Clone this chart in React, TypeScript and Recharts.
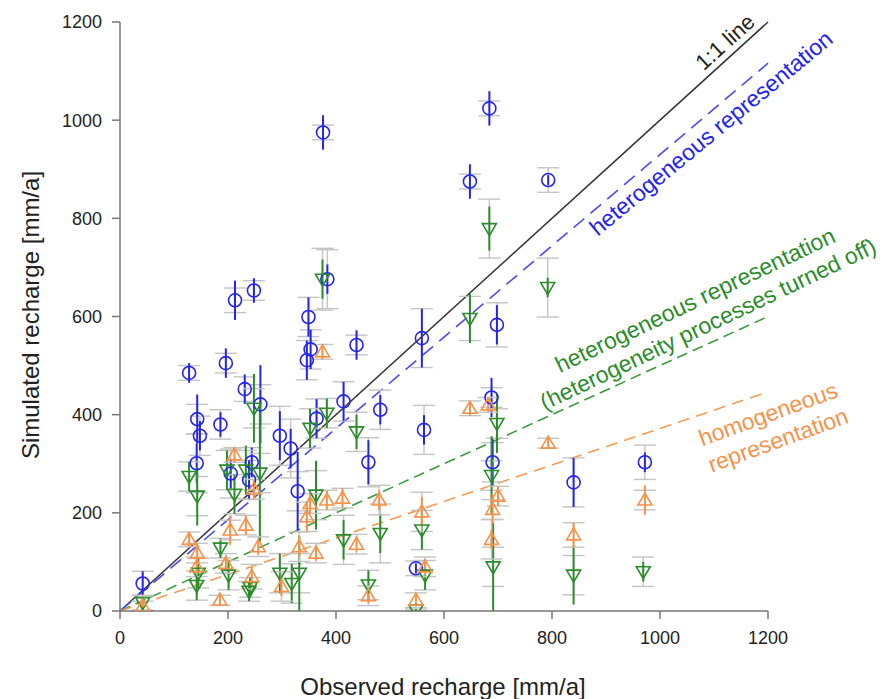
import React from "react";
import {
  ScatterChart,
  Scatter,
  XAxis,
  YAxis,
  ErrorBar,
  ReferenceLine,
} from "recharts";

// heterogeneous representation (blue circles)
const hetObs = [42, 128, 143, 148, 142, 186, 196, 213, 231, 248, 260, 205, 239, 244, 296, 316, 329, 349, 353, 346, 364, 376, 384, 414, 438, 460, 482, 548, 559, 563, 648, 684, 688, 690, 698, 793, 840, 972];
const hetSim = [56, 485, 391, 357, 301, 380, 505, 633, 452, 653, 421, 280, 267, 303, 357, 331, 244, 599, 533, 511, 392, 975, 676, 427, 542, 303, 410, 87, 556, 369, 875, 1024, 435, 303, 583, 878, 262, 303];
const hetErr = [25, 20, 50, 30, 40, 25, 30, 40, 30, 25, 80, 30, 40, 30, 50, 40, 80, 40, 40, 40, 40, 35, 30, 40, 30, 45, 30, 10, 60, 30, 35, 35, 40, 50, 40, 10, 50, 20];
const hetRange = [25, 15, 30, 40, 60, 30, 20, 25, 25, 20, 40, 50, 40, 30, 60, 60, 40, 40, 40, 40, 40, 15, 60, 40, 20, 50, 40, 15, 60, 50, 15, 15, 20, 40, 45, 25, 50, 35];

// heterogeneity processes turned off (green down triangles)
const offObs = [42, 128, 143, 145, 142, 186, 198, 201, 212, 233, 239, 241, 248, 259, 296, 318, 332, 352, 363, 375, 383, 414, 438, 460, 482, 548, 559, 565, 648, 684, 688, 691, 698, 792, 840, 969];
const offSim = [17, 274, 234, 77, 52, 128, 287, 73, 238, 287, 40, 48, 413, 281, 77, 56, 77, 372, 236, 676, 403, 145, 365, 53, 158, 2, 165, 73, 596, 779, 276, 90, 382, 659, 73, 80];
const offErr = [10, 30, 60, 30, 30, 20, 40, 30, 40, 50, 20, 20, 70, 140, 40, 40, 77, 40, 70, 40, 30, 40, 35, 30, 40, 2, 40, 30, 50, 45, 80, 90, 60, 20, 60, 20];
const offRange = [15, 30, 40, 30, 30, 20, 40, 30, 40, 40, 20, 20, 40, 40, 40, 40, 40, 40, 50, 63, 30, 50, 40, 30, 60, 2, 40, 30, 45, 60, 30, 40, 30, 60, 40, 30];

// homogeneous representation (orange up triangles)
const homObs = [42, 128, 142, 143, 185, 196, 204, 212, 233, 244, 248, 256, 299, 332, 346, 352, 363, 375, 383, 412, 438, 460, 480, 548, 559, 565, 648, 682, 688, 690, 700, 793, 840, 972];
const homSim = [10, 146, 90, 118, 22, 97, 165, 318, 175, 70, 248, 131, 50, 131, 192, 219, 118, 528, 226, 230, 136, 31, 226, 22, 202, 90, 413, 420, 146, 207, 234, 342, 155, 226];
const homErr = [10, 15, 15, 20, 10, 15, 30, 15, 20, 20, 20, 15, 20, 20, 30, 20, 15, 15, 20, 20, 15, 15, 20, 10, 30, 15, 15, 15, 20, 30, 20, 10, 25, 30];
const homRange = [10, 15, 20, 20, 10, 20, 20, 15, 20, 25, 20, 20, 30, 30, 30, 20, 20, 15, 20, 20, 20, 20, 30, 15, 40, 20, 15, 15, 40, 20, 20, 10, 25, 20];

// fitted slopes of the dashed lines
const lineSlopes = { oneToOne: 1, het: 0.93, off: 0.5, hom: 0.372 };
const xTicks = [0, 200, 400, 600, 800, 1000, 1200];
const yTicks = [0, 200, 400, 600, 800, 1000, 1200];

const BLUE = "#2424f0";
const GREEN = "#2a8c2a";
const ORANGE = "#f7924a";
const GREY = "#c4c4c4";
const FONT = "'Liberation Sans', Arial, sans-serif";

function build(obs: number[], sim: number[], err: number[], range: number[]) {
  return obs.map((x, i) => ({ x, y: sim[i], e: err[i], g: range[i] }));
}

const hetData = build(hetObs, hetSim, hetErr, hetRange);
const offData = build(offObs, offSim, offErr, offRange);
const homData = build(homObs, homSim, homErr, homRange);

const Circle = (props: any) => (
  <circle cx={props.cx} cy={props.cy} r={6.5} fill="none" stroke={BLUE} strokeWidth={1.6} />
);

const DownTri = (props: any) => {
  const { cx, cy } = props;
  return (
    <polygon
      points={`${cx - 7},${cy - 5} ${cx + 7},${cy - 5} ${cx},${cy + 7}`}
      fill="none"
      stroke={GREEN}
      strokeWidth={1.6}
    />
  );
};

const UpTri = (props: any) => {
  const { cx, cy } = props;
  return (
    <polygon
      points={`${cx - 7},${cy + 5} ${cx + 7},${cy + 5} ${cx},${cy - 7}`}
      fill="none"
      stroke={ORANGE}
      strokeWidth={1.6}
    />
  );
};

function Note({ x, y, angle, color, size, children }: any) {
  return (
    <text
      x={x}
      y={y}
      textAnchor="middle"
      dominantBaseline="central"
      fill={color}
      fontSize={size}
      fontFamily={FONT}
      transform={`rotate(${angle} ${x} ${y})`}
    >
      {children}
    </text>
  );
}

export default function App() {
  const axisTick = { fill: "#222", fontSize: 18, fontFamily: FONT };
  return (
    <div style={{ position: "relative", width: 883, height: 691 }}>
      <ScatterChart
        width={883}
        height={691}
        margin={{ top: 14, right: 123, bottom: 58, left: 52 }}
      >
        <XAxis
          type="number"
          dataKey="x"
          domain={[0, 1200]}
          allowDataOverflow
          ticks={xTicks}
          tickSize={8}
          tickMargin={12}
          tick={axisTick}
          stroke="#777"
          strokeWidth={1.5}
        />
        <YAxis
          type="number"
          dataKey="y"
          domain={[0, 1200]}
          allowDataOverflow
          ticks={yTicks}
          width={60}
          tickSize={8}
          tickMargin={10}
          tick={axisTick}
          stroke="#777"
          strokeWidth={1.5}
        />
        <ReferenceLine
          segment={[{ x: 0, y: 0 }, { x: 1200, y: 1200 * lineSlopes.oneToOne }]}
          stroke="#333"
          strokeWidth={1.5}
        />
        <ReferenceLine
          segment={[{ x: 0, y: 0 }, { x: 1200, y: 1200 * lineSlopes.het }]}
          stroke="#4a4af2"
          strokeWidth={1.6}
          strokeDasharray="14 8"
        />
        <ReferenceLine
          segment={[{ x: 0, y: 0 }, { x: 1200, y: 1200 * lineSlopes.off }]}
          stroke="#3c9a3c"
          strokeWidth={1.6}
          strokeDasharray="11 6"
        />
        <ReferenceLine
          segment={[{ x: 0, y: 0 }, { x: 1200, y: 1200 * lineSlopes.hom }]}
          stroke="#f79a55"
          strokeWidth={1.6}
          strokeDasharray="12 7"
        />
        <Scatter data={hetData} shape={Circle} isAnimationActive={false}>
          <ErrorBar dataKey="g" direction="y" width={11} stroke={GREY} strokeWidth={1.4} />
          <ErrorBar dataKey="e" direction="y" width={0} stroke={BLUE} strokeWidth={2} />
        </Scatter>
        <Scatter data={offData} shape={DownTri} isAnimationActive={false}>
          <ErrorBar dataKey="g" direction="y" width={11} stroke={GREY} strokeWidth={1.4} />
          <ErrorBar dataKey="e" direction="y" width={0} stroke={GREEN} strokeWidth={2} />
        </Scatter>
        <Scatter data={homData} shape={UpTri} isAnimationActive={false}>
          <ErrorBar dataKey="g" direction="y" width={11} stroke={GREY} strokeWidth={1.4} />
          <ErrorBar dataKey="e" direction="y" width={0} stroke={ORANGE} strokeWidth={2} />
        </Scatter>
      </ScatterChart>
      <svg
        width={883}
        height={691}
        style={{ position: "absolute", left: 0, top: 0, pointerEvents: "none" }}
      >
        <Note x={22} y={307} angle={-90} color="#222" size={24}>
          Simulated recharge [mm/a]
        </Note>
        <Note x={435} y={678} angle={0} color="#222" size={24}>
          Observed recharge [mm/a]
        </Note>
        <Note x={717} y={34} angle={-42} color="#222" size={22}>
          1:1 line
        </Note>
        <Note x={703} y={125} angle={-39.5} color={BLUE} size={23}>
          heterogeneous representation
        </Note>
        <Note x={687} y={292} angle={-25.5} color={GREEN} size={23}>
          heterogeneous representation
        </Note>
        <Note x={700} y={316} angle={-25.5} color={GREEN} size={23}>
          (heterogeneity processes turned off)
        </Note>
        <Note x={760} y={406} angle={-20} color={ORANGE} size={23}>
          homogeneous
        </Note>
        <Note x={770} y={432} angle={-20} color={ORANGE} size={23}>
          representation
        </Note>
      </svg>
    </div>
  );
}
